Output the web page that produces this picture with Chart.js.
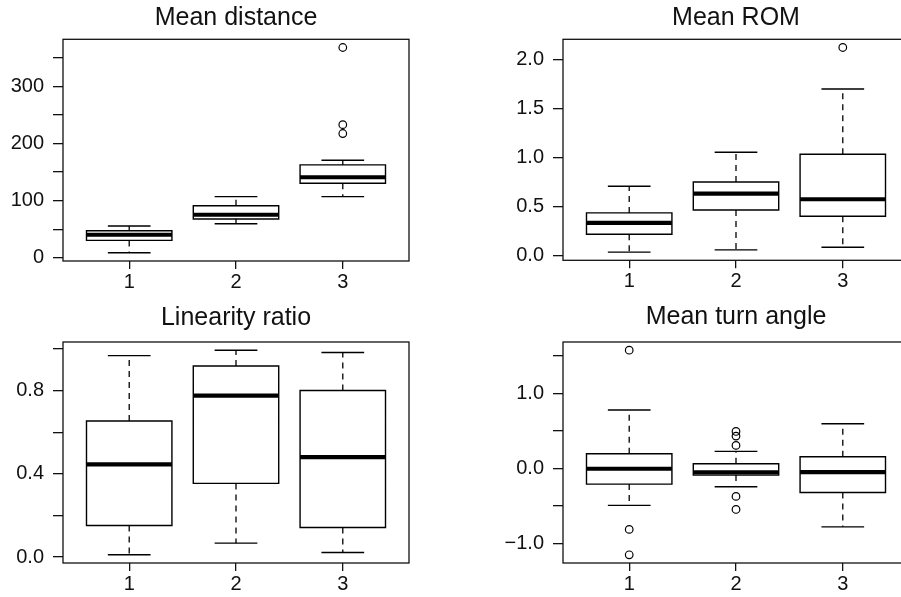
<!DOCTYPE html>
<html>
<head>
<meta charset="utf-8">
<script src="https://cdn.jsdelivr.net/npm/chart.js@4.4.1/dist/chart.umd.min.js"></script>
<style>
html,body{margin:0;padding:0;background:#fff;overflow:hidden;}
#wrap{position:relative;width:901px;height:597px;overflow:hidden;background:#fff;}
canvas{position:absolute;}
</style>
</head>
<body>
<div id="wrap">
<canvas id="c1" width="450" height="297" style="left:0;top:0;width:450px;height:297px"></canvas>
<canvas id="c2" width="470" height="297" style="left:450px;top:0;width:470px;height:297px"></canvas>
<canvas id="c3" width="450" height="300" style="left:0;top:297px;width:450px;height:300px"></canvas>
<canvas id="c4" width="470" height="300" style="left:450px;top:297px;width:470px;height:300px"></canvas>
</div>
<script>
// ---- categories ----
const groups = [1, 2, 3];
const groupLabels = ['1', '2', '3'];

// ---- Mean distance ----
const distLow  = [8.8, 59.6, 107];
const distQ1   = [30.5, 68, 130.5];
const distMed  = [40.4, 75.4, 141];
const distQ3   = [47.4, 91, 162.6];
const distHigh = [55.6, 107, 170.8];
const distOut  = [[], [], [217.5, 233, 368]];
const distTicks = [0, 50, 100, 150, 200, 250, 300, 350];
const distTickLabels = ['0', '', '100', '', '200', '', '300', ''];

// ---- Mean ROM ----
const romLow  = [0.038, 0.061, 0.088];
const romQ1   = [0.22, 0.467, 0.403];
const romMed  = [0.335, 0.634, 0.576];
const romQ3   = [0.437, 0.752, 1.034];
const romHigh = [0.708, 1.054, 1.697];
const romOut  = [[], [], [2.12]];
const romTicks = [0, 0.5, 1.0, 1.5, 2.0];
const romTickLabels = ['0.0', '0.5', '1.0', '1.5', '2.0'];

// ---- Linearity ratio ----
const linLow  = [0.011, 0.067, 0.022];
const linQ1   = [0.152, 0.354, 0.142];
const linMed  = [0.445, 0.776, 0.48];
const linQ3   = [0.654, 0.918, 0.80];
const linHigh = [0.968, 0.994, 0.983];
const linOut  = [[], [], []];
const linTicks = [0, 0.2, 0.4, 0.6, 0.8, 1.0];
const linTickLabels = ['0.0', '', '0.4', '', '0.8', ''];

// ---- Mean turn angle ----
const turnLow  = [-0.493, -0.245, -0.779];
const turnQ1   = [-0.209, -0.089, -0.32];
const turnMed  = [-0.004, -0.053, -0.049];
const turnQ3   = [0.195, 0.062, 0.155];
const turnHigh = [0.78, 0.227, 0.595];
const turnOut  = [[1.577, -0.813, -1.152], [0.493, 0.431, 0.307, -0.373, -0.547], []];
const turnTicks = [-1.0, -0.5, 0, 0.5, 1.0, 1.5];
const turnTickLabels = ['\u22121.0', '', '0.0', '', '1.0', ''];

Chart.defaults.font.family = "'Liberation Sans', Arial, Helvetica, sans-serif";
Chart.defaults.color = '#111';

const framePlugin = {
  id: 'frame',
  afterDatasetsDraw(chart) {
    const { ctx, chartArea: a } = chart;
    ctx.save();
    ctx.strokeStyle = '#111';
    ctx.lineWidth = 1.3;
    ctx.strokeRect(a.left, a.top, a.right - a.left, a.bottom - a.top);
    ctx.restore();
  }
};

function boxChart(id, title, s, ticks, tickLabels, L) {
  const BW = 0.4, CW = 0.2;
  const boxPts = [], stemPts = [], capPts = [], medPts = [], outPts = [];
  groups.forEach((g, i) => {
    boxPts.push({x: g - BW, y: s.q1[i]}, {x: g - BW, y: s.q3[i]}, {x: g + BW, y: s.q3[i]},
                {x: g + BW, y: s.q1[i]}, {x: g - BW, y: s.q1[i]}, {x: g, y: null});
    stemPts.push({x: g, y: s.q3[i]}, {x: g, y: s.high[i]}, {x: g, y: null},
                 {x: g, y: s.q1[i]}, {x: g, y: s.low[i]}, {x: g, y: null});
    capPts.push({x: g - CW, y: s.high[i]}, {x: g + CW, y: s.high[i]}, {x: g, y: null},
                {x: g - CW, y: s.low[i]}, {x: g + CW, y: s.low[i]}, {x: g, y: null});
    medPts.push({x: g - BW, y: s.med[i]}, {x: g + BW, y: s.med[i]}, {x: g, y: null});
    s.out[i].forEach(v => outPts.push({x: g, y: v}));
  });
  const all = [...s.low, ...s.high, ...s.out.flat()];
  const mn = Math.min(...all), mx = Math.max(...all), pad = (mx - mn) * 0.04;
  const lineBase = {showLine: true, borderColor: '#000', pointRadius: 0, fill: false, tension: 0, spanGaps: false};
  new Chart(document.getElementById(id), {
    type: 'scatter',
    data: {
      datasets: [
        Object.assign({}, lineBase, {data: medPts, borderWidth: 4.2, borderCapStyle: 'butt'}),
        {data: outPts, showLine: false, pointRadius: 3.8, pointBorderWidth: 1.2,
         pointBorderColor: '#000', pointBackgroundColor: 'rgba(0,0,0,0)'},
        Object.assign({}, lineBase, {data: capPts, borderWidth: 1.4, borderCapStyle: 'butt'}),
        Object.assign({}, lineBase, {data: stemPts, borderWidth: 1.3, borderDash: [6, 5], borderCapStyle: 'butt'}),
        Object.assign({}, lineBase, {data: boxPts, borderWidth: 1.4, borderCapStyle: 'square', borderJoinStyle: 'miter'})
      ]
    },
    options: {
      responsive: false, animation: false, events: [],
      layout: {padding: {left: 0, right: L.padRight, top: 0, bottom: 0}},
      plugins: {
        legend: {display: false},
        tooltip: {enabled: false},
        title: {display: true, text: title, fullSize: false, color: '#111',
                font: {size: 25, weight: 'normal'}, padding: {top: L.tTop, bottom: L.tBot}}
      },
      scales: {
        x: {
          type: 'linear', min: 0.38, max: 3.62,
          afterBuildTicks: sc => { sc.ticks = groups.map(v => ({value: v})); },
          afterFit: sc => { sc.height = L.xH; },
          ticks: {callback: (v, i) => groupLabels[i], autoSkip: false, maxRotation: 0,
                  padding: 1, color: '#111', font: {size: 20}},
          grid: {drawOnChartArea: false, tickLength: 8, color: '#111', lineWidth: 1.3},
          border: {display: false}
        },
        y: {
          type: 'linear', min: mn - pad, max: mx + pad,
          afterBuildTicks: sc => { sc.ticks = ticks.map(v => ({value: v})); },
          afterFit: sc => { sc.width = L.yW; },
          ticks: {callback: (v, i) => tickLabels[i], autoSkip: false, padding: 9,
                  color: '#111', font: {size: 20}},
          grid: {drawOnChartArea: false, tickLength: 10, color: '#111', lineWidth: 1.3},
          border: {display: false}
        }
      }
    },
    plugins: [framePlugin]
  });
}

boxChart('c1', 'Mean distance',
  {low: distLow, q1: distQ1, med: distMed, q3: distQ3, high: distHigh, out: distOut},
  distTicks, distTickLabels, {yW: 63, xH: 36, padRight: 41, tTop: 2.7, tBot: 6.6});
boxChart('c2', 'Mean ROM',
  {low: romLow, q1: romQ1, med: romMed, q3: romQ3, high: romHigh, out: romOut},
  romTicks, romTickLabels, {yW: 113, xH: 36.7, padRight: 11, tTop: 3.3, tBot: 6.0});
boxChart('c3', 'Linearity ratio',
  {low: linLow, q1: linQ1, med: linMed, q3: linQ3, high: linHigh, out: linOut},
  linTicks, linTickLabels, {yW: 63, xH: 34, padRight: 41, tTop: 5.9, tBot: 9.1});
boxChart('c4', 'Mean turn angle',
  {low: turnLow, q1: turnQ1, med: turnMed, q3: turnQ3, high: turnHigh, out: turnOut},
  turnTicks, turnTickLabels, {yW: 113, xH: 34, padRight: 11, tTop: 5.0, tBot: 10.0});
</script>
</body>
</html>
